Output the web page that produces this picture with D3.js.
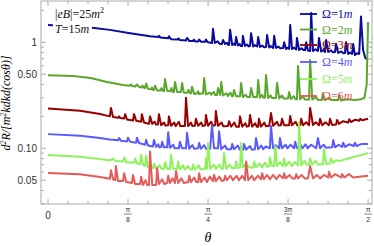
<!DOCTYPE html>
<html lang="en">
<head>
  <meta charset="UTF-8">
  <title>d2R spectrum vs theta</title>
  <style>
    body { margin: 0; background: #fff; }
    .tick-label { font-family: "Liberation Sans", Arial, sans-serif; font-size: 10px; fill: #333; }
    .serif { font-family: "Liberation Serif", "Times New Roman", serif; }
  </style>
  <script src="https://d3js.org/d3.v7.min.js"></script>
</head>
<body>
  <svg id="chart" width="374" height="246"></svg>
  <script>
    // theta in degrees (0..90 = 0..pi/2), value on log axis
    const omega1 = [[0,1.46],[12.4,1.37],[17.4,1.31],[23.1,1.22],[28.7,1.14],[31.0,1.12],[31.2,1.15],[31.6,1.11],
      [33.8,1.09],[34.0,1.14],[34.6,1.07],[36.5,1.06],[36.7,1.09],[37.1,1.05],[38.8,1.04],[39.1,1.10],[39.7,1.03],
      [40.8,1.03],[41.0,1.06],[41.4,1.02],[42.2,1.02],[42.5,1.06],[43.1,1.01],[44.2,1.01],[44.4,1.06],[45.0,1.0],
      [46.1,0.985],[46.4,1.34],[46.9,0.985],[47.7,1.02],[48.2,0.97],[48.9,0.964],[49.2,1.05],[49.8,0.964],[50.3,0.99],
      [50.6,0.95],[50.9,0.943],[51.2,1.31],[51.8,0.943],[52.2,0.97],[52.6,0.943],[52.9,1.12],[53.4,0.933],[53.9,0.96],
      [54.2,0.925],[54.6,0.923],[54.8,1.15],[55.4,0.923],[56.0,0.95],[56.4,0.915],[56.8,0.923],[57.1,1.22],[57.7,0.913],
      [58.2,0.94],[58.8,0.913],[59.1,1.12],[59.6,0.903],[60.3,0.93],[60.7,0.9],[61.3,0.903],[61.6,1.17],[62.2,0.893],
      [62.7,0.92],[63.3,0.884],[63.6,1.15],[64.1,0.884],[64.8,0.91],[65.3,0.88],[66.1,0.884],[66.4,1.0],[66.9,0.865],
      [67.3,0.89],[67.8,0.865],[68.1,1.46],[68.6,0.865],[69.1,0.89],[69.8,0.856],[70.0,1.10],[70.6,0.846],[71.3,0.88],
      [71.8,0.845],[72.3,0.846],[72.6,1.0],[73.1,0.837],[73.7,0.828],[74.0,1.89],[74.5,0.828],[75.2,0.86],[75.9,0.828],
      [76.2,1.10],[76.8,0.819],[77.4,0.845],[77.9,0.81],[78.2,1.05],[78.8,0.81],[79.6,0.84],[80.1,0.805],[80.7,0.81],
      [81.0,0.964],[81.6,0.793],[82.5,0.82],[83.0,0.79],[83.5,0.792],[83.8,1.0],[84.4,0.776],[85.0,0.80],[85.5,0.776],
      [85.8,0.964],[86.3,0.759],[86.9,0.79],[87.5,0.776],[88.0,1.75],[88.6,0.846],[89.2,0.711],[90,0.681]];

    const omega2 = [[0,0.49],[7,0.481],[12,0.461],[16.6,0.422],[21.1,0.396],[23.0,0.39],[23.3,0.40],[23.7,0.387],
      [24.5,0.383],[25.0,0.40],[25.6,0.38],[26.4,0.375],[26.6,0.39],[27.0,0.372],[27.3,0.37],[27.6,0.408],[28.1,0.363],
      [29.0,0.36],[29.2,0.375],[29.5,0.356],[29.8,0.355],[30.1,0.39],[30.7,0.35],[31.6,0.35],[31.9,0.37],[32.3,0.348],
      [32.6,0.348],[32.9,0.45],[33.5,0.348],[34.4,0.345],[34.7,0.37],[35.1,0.34],[35.4,0.34],[35.7,0.422],[36.3,0.34],
      [37.4,0.34],[37.7,0.413],[38.2,0.335],[39.2,0.335],[39.5,0.355],[39.9,0.33],[40.2,0.33],[40.5,0.38],[41.1,0.325],
      [42.0,0.33],[42.2,0.345],[42.5,0.325],[43.6,0.33],[43.9,0.46],[44.4,0.322],[45.5,0.335],[45.9,0.32],[46.6,0.34],
      [47.0,0.318],[47.5,0.318],[47.8,0.37],[48.4,0.318],[48.7,0.422],[49.2,0.315],[50.2,0.33],[50.6,0.312],[51.3,0.335],
      [51.7,0.31],[52.0,0.31],[52.3,0.355],[52.9,0.31],[54.0,0.31],[54.3,0.413],[54.8,0.305],[55.6,0.32],[56.0,0.305],
      [56.8,0.305],[57.1,0.37],[57.7,0.305],[58.8,0.305],[59.1,0.441],[59.6,0.30],[60.2,0.32],[60.6,0.30],[61.0,0.30],
      [61.3,0.491],[61.9,0.298],[62.6,0.315],[63.0,0.298],[64.1,0.298],[64.4,0.413],[65.0,0.295],[65.8,0.315],[66.2,0.295],
      [67.5,0.295],[67.8,0.34],[68.3,0.292],[69.1,0.31],[69.5,0.292],[70.0,0.29],[70.3,0.598],[70.9,0.29],[71.7,0.31],
      [72.2,0.289],[73.4,0.288],[73.7,0.68],[74.3,0.288],[75.4,0.305],[75.8,0.287],[77.0,0.285],[77.3,0.33],[77.9,0.285],
      [79.2,0.30],[79.6,0.285],[81.6,0.285],[81.9,0.32],[82.4,0.282],[84.0,0.29],[86.3,0.285],[88.0,0.29],[89.0,0.30],
      [89.6,0.40],[90,1.55]];

    const omega3 = [[0,0.237],[9,0.226],[14.6,0.211],[17.4,0.20],[17.7,0.24],[18.3,0.197],[19.8,0.194],[20.0,0.2],
      [20.3,0.193],[21.4,0.191],[21.7,0.21],[22.2,0.187],[23.9,0.183],[24.2,0.21],[24.8,0.182],[26.2,0.178],[26.4,0.21],
      [27.0,0.175],[28.4,0.17],[28.7,0.20],[29.3,0.17],[30.0,0.178],[30.3,0.168],[30.9,0.168],[31.2,0.21],[31.8,0.165],
      [32.6,0.175],[33.0,0.164],[33.8,0.165],[34.0,0.20],[34.6,0.163],[35.5,0.175],[35.9,0.162],[36.8,0.178],[37.2,0.162],
      [38.5,0.162],[38.8,0.30],[39.4,0.162],[40.2,0.175],[40.6,0.162],[41.3,0.163],[41.6,0.19],[42.2,0.163],[43.1,0.175],
      [43.5,0.162],[44.2,0.165],[44.4,0.206],[45.0,0.163],[45.9,0.178],[46.3,0.163],[47.0,0.165],[47.2,0.225],[47.8,0.163],
      [48.8,0.175],[49.3,0.161],[50.6,0.162],[50.9,0.18],[51.5,0.16],[52.4,0.175],[52.9,0.16],[53.7,0.16],[54.0,0.20],
      [54.6,0.16],[55.5,0.172],[55.9,0.16],[56.5,0.162],[56.8,0.206],[57.4,0.16],[58.3,0.172],[58.7,0.16],[59.1,0.16],
      [59.3,0.19],[59.9,0.16],[60.8,0.175],[61.3,0.161],[62.2,0.163],[62.7,0.215],[63.3,0.163],[64.4,0.178],[64.8,0.164],
      [65.5,0.165],[65.8,0.19],[66.4,0.165],[67.8,0.165],[68.1,0.202],[68.6,0.165],[69.6,0.178],[70.1,0.165],[70.9,0.165],
      [71.2,0.19],[71.7,0.165],[72.6,0.176],[73.4,0.165],[73.7,0.24],[74.5,0.166],[75.3,0.176],[76.2,0.165],[76.5,0.19],
      [77.1,0.165],[78.0,0.176],[79.0,0.165],[79.3,0.19],[79.9,0.166],[81.0,0.168],[81.3,0.185],[81.8,0.17],[83.0,0.18],
      [84.4,0.175],[84.7,0.188],[85.2,0.177],[86.4,0.186],[87.5,0.182],[87.8,0.19],[88.3,0.184],[90,0.19]];

    const omega4 = [[0,0.136],[9,0.131],[14.6,0.125],[17.4,0.121],[19.7,0.119],[20.0,0.125],[20.5,0.118],[22.2,0.116],
      [22.5,0.126],[23.1,0.115],[24.8,0.113],[25.0,0.126],[25.6,0.112],[27.3,0.108],[27.6,0.12],[28.1,0.106],[29.5,0.104],
      [29.8,0.12],[30.4,0.103],[31.0,0.109],[31.3,0.102],[31.8,0.103],[32.1,0.115],[32.6,0.102],[33.5,0.102],[33.8,0.142],
      [34.3,0.101],[35.2,0.108],[35.6,0.10],[36.8,0.10],[37.1,0.115],[37.7,0.10],[38.8,0.10],[39.1,0.14],[39.7,0.099],
      [40.6,0.107],[41.1,0.099],[42.2,0.10],[42.5,0.112],[43.0,0.099],[43.9,0.107],[44.4,0.099],[45.6,0.099],[46.1,0.166],
      [46.7,0.10],[47.8,0.10],[48.1,0.145],[48.7,0.098],[49.8,0.106],[50.3,0.098],[51.5,0.098],[51.8,0.11],[52.3,0.098],
      [53.4,0.106],[53.9,0.097],[54.9,0.097],[55.1,0.11],[55.7,0.097],[56.8,0.105],[57.3,0.097],[58.2,0.098],[58.5,0.125],
      [59.1,0.098],[60.0,0.106],[60.5,0.098],[61.2,0.104],[62.4,0.10],[62.7,0.162],[63.3,0.10],[64.0,0.107],[65.0,0.10],
      [65.2,0.125],[65.8,0.10],[66.8,0.108],[67.3,0.10],[68.2,0.108],[69.2,0.10],[69.5,0.115],[70.0,0.10],[71.0,0.108],
      [71.5,0.10],[72.4,0.109],[73.0,0.10],[74.0,0.108],[75.4,0.10],[75.9,0.125],[76.5,0.10],[77.5,0.108],[78.2,0.101],
      [79.9,0.102],[80.2,0.12],[80.7,0.102],[81.7,0.108],[82.7,0.103],[83.0,0.113],[83.5,0.103],[84.7,0.109],[86.0,0.105],
      [86.3,0.113],[86.8,0.105],[88.2,0.11],[90,0.11]];

    const omega5 = [[0,0.0865],[9,0.083],[14.6,0.079],[17.4,0.077],[18.3,0.08],[18.9,0.076],[21.1,0.075],[21.4,0.082],
      [22.0,0.074],[24.2,0.073],[24.5,0.08],[25.0,0.072],[25.9,0.071],[26.2,0.087],[26.7,0.07],[27.3,0.068],[27.6,0.085],
      [28.1,0.066],[29.5,0.065],[29.8,0.072],[30.4,0.064],[31.4,0.069],[31.9,0.064],[32.6,0.064],[32.9,0.074],[33.5,0.064],
      [34.3,0.064],[34.6,0.087],[35.2,0.064],[36.3,0.064],[36.6,0.075],[37.1,0.063],[38.0,0.069],[38.5,0.063],[39.4,0.068],
      [40.0,0.063],[40.5,0.063],[40.8,0.07],[41.3,0.063],[42.4,0.069],[42.9,0.063],[44.2,0.064],[44.4,0.08],[44.7,0.064],
      [45.0,0.112],[45.6,0.064],[46.6,0.07],[47.2,0.064],[48.2,0.07],[48.8,0.064],[49.2,0.064],[49.5,0.09],[50.1,0.064],
      [51.1,0.07],[51.7,0.065],[52.6,0.065],[52.9,0.075],[53.4,0.065],[54.0,0.066],[54.3,0.112],[54.8,0.066],[55.8,0.072],
      [56.5,0.066],[57.7,0.066],[58.0,0.075],[58.5,0.066],[59.5,0.072],[60.2,0.066],[61.0,0.073],[61.6,0.067],[62.2,0.068],
      [62.4,0.082],[63.0,0.068],[63.6,0.068],[63.9,0.105],[64.4,0.068],[65.2,0.074],[66.1,0.068],[66.4,0.08],[66.9,0.068],
      [67.8,0.075],[68.5,0.068],[69.4,0.074],[70.3,0.069],[70.6,0.175],[71.2,0.069],[72.1,0.076],[72.8,0.07],[73.4,0.07],
      [73.7,0.08],[74.3,0.07],[75.2,0.076],[76.0,0.07],[77.3,0.071],[77.6,0.098],[78.2,0.071],[79.3,0.072],[79.6,0.08],
      [80.2,0.073],[81.0,0.077],[82.1,0.076],[84.9,0.081],[87.8,0.086],[90,0.09]];

    const omega6 = [[0,0.0585],[9,0.057],[14.6,0.0535],[17.4,0.0515],[17.7,0.062],[18.3,0.051],[18.9,0.05],[19.1,0.068],
      [19.7,0.049],[21.1,0.049],[21.4,0.058],[22.0,0.048],[23.6,0.047],[23.9,0.056],[24.5,0.046],[25.9,0.046],[26.2,0.054],
      [26.7,0.045],[27.4,0.05],[27.9,0.045],[28.4,0.045],[28.7,0.093],[29.3,0.045],[30.4,0.045],[30.7,0.065],[31.2,0.046],
      [32.1,0.051],[32.7,0.046],[33.5,0.047],[33.8,0.055],[34.3,0.047],[35.0,0.052],[35.7,0.047],[36.0,0.061],[36.6,0.047],
      [37.5,0.052],[38.2,0.047],[39.4,0.048],[39.7,0.055],[40.2,0.048],[41.1,0.053],[41.7,0.048],[42.2,0.048],[42.5,0.058],
      [43.0,0.048],[44.0,0.053],[44.7,0.048],[45.5,0.054],[46.4,0.049],[46.7,0.056],[47.2,0.049],[48.2,0.054],[48.9,0.049],
      [49.5,0.05],[49.8,0.055],[50.3,0.05],[51.3,0.055],[52.0,0.05],[53.0,0.055],[53.7,0.05],[54.6,0.055],[55.4,0.05],
      [55.7,0.075],[56.3,0.05],[57.3,0.055],[58.0,0.05],[59.0,0.055],[59.9,0.051],[60.2,0.058],[60.7,0.051],[61.6,0.056],
      [62.4,0.051],[63.3,0.056],[64.2,0.051],[65.1,0.056],[66.1,0.052],[66.4,0.058],[66.9,0.052],[67.9,0.056],[68.7,0.052],
      [69.5,0.052],[69.8,0.057],[70.3,0.052],[71.3,0.056],[72.2,0.052],[73.1,0.052],[73.7,0.068],[74.5,0.052],[75.6,0.056],
      [76.5,0.052],[77.6,0.056],[78.8,0.053],[79.0,0.06],[79.6,0.053],[80.7,0.057],[82.4,0.053],[82.7,0.057],[83.3,0.053],
      [84.6,0.057],[85.8,0.053],[87.5,0.054],[90,0.055]];

    const seriesData = [omega1, omega2, omega3, omega4, omega5, omega6];
    const seriesNames = ["1", "2", "3", "4", "5", "6"];
    const colors = ["#0a0aa0", "#5aa82a", "#990000", "#5a5aff", "#8cf45a", "#e65a5a"];

    const xTicks = [0, 22.5, 45, 67.5, 90];
    const xTickNum = ["0", "π", "π", "3π", "π"];
    const xTickDen = [null, "8", "4", "8", "2"];
    const yMajor = [0.05, 0.1, 0.5, 1];
    const yMajorLabels = ["0.05", "0.10", "0.50", "1"];
    const yMinor = [0.03, 0.04, 0.06, 0.07, 0.08, 0.09, 0.2, 0.3, 0.4, 0.6, 0.7, 0.8, 0.9, 2];

    const frame = {left: 41, right: 372, top: 1, bottom: 204};
    const svg = d3.select("#chart");

    const x = d3.scaleLinear().domain([-1.97, 91.1]).range([frame.left, frame.right]);
    const y = d3.scaleLog().domain([0.0298, 2.453]).range([frame.bottom, frame.top]);

    svg.append("defs").append("clipPath").attr("id", "clip")
      .append("rect")
      .attr("x", frame.left).attr("y", frame.top)
      .attr("width", frame.right - frame.left).attr("height", frame.bottom - frame.top);

    // data lines
    const line = d3.line().x(d => x(d[0])).y(d => y(d[1]));
    const plot = svg.append("g").attr("clip-path", "url(#clip)");
    seriesData.forEach((s, i) => {
      plot.append("path")
        .attr("d", line(s))
        .attr("fill", "none")
        .attr("stroke", colors[i])
        .attr("stroke-width", 2)
        .attr("stroke-linejoin", "round");
    });

    // frame
    svg.append("rect")
      .attr("x", frame.left).attr("y", frame.top)
      .attr("width", frame.right - frame.left).attr("height", frame.bottom - frame.top)
      .attr("fill", "none").attr("stroke", "#aaa").attr("stroke-width", 1);

    // ticks point inward on all four sides
    const xMinor = d3.range(0, 91, 5.625).filter(t => !xTicks.includes(t));
    const tickG = svg.append("g").attr("stroke", "#aaa").attr("stroke-width", 1);
    xTicks.forEach(t => {
      tickG.append("line").attr("x1", x(t)).attr("x2", x(t)).attr("y1", frame.bottom).attr("y2", frame.bottom - 5);
      tickG.append("line").attr("x1", x(t)).attr("x2", x(t)).attr("y1", frame.top).attr("y2", frame.top + 5);
    });
    xMinor.forEach(t => {
      tickG.append("line").attr("x1", x(t)).attr("x2", x(t)).attr("y1", frame.bottom).attr("y2", frame.bottom - 3);
      tickG.append("line").attr("x1", x(t)).attr("x2", x(t)).attr("y1", frame.top).attr("y2", frame.top + 3);
    });
    yMajor.forEach(v => {
      tickG.append("line").attr("x1", frame.left).attr("x2", frame.left + 5).attr("y1", y(v)).attr("y2", y(v));
      tickG.append("line").attr("x1", frame.right).attr("x2", frame.right - 5).attr("y1", y(v)).attr("y2", y(v));
    });
    yMinor.forEach(v => {
      tickG.append("line").attr("x1", frame.left).attr("x2", frame.left + 3).attr("y1", y(v)).attr("y2", y(v));
      tickG.append("line").attr("x1", frame.right).attr("x2", frame.right - 3).attr("y1", y(v)).attr("y2", y(v));
    });

    // y tick labels
    yMajor.forEach((v, i) => {
      svg.append("text").attr("class", "tick-label")
        .attr("x", frame.left - 4).attr("y", y(v) + 3.5)
        .attr("text-anchor", "end").text(yMajorLabels[i]);
    });

    // x tick labels (fractions of pi)
    xTicks.forEach((t, i) => {
      if (xTickDen[i] === null) {
        svg.append("text").attr("class", "tick-label")
          .attr("x", x(t)).attr("y", 219).attr("text-anchor", "middle").text(xTickNum[i]);
      } else {
        svg.append("text").attr("class", "tick-label").style("font-size", "7px")
          .attr("x", x(t)).attr("y", 212).attr("text-anchor", "middle").text(xTickNum[i]);
        svg.append("line").attr("x1", x(t) - 4).attr("x2", x(t) + 4)
          .attr("y1", 214).attr("y2", 214).attr("stroke", "#333").attr("stroke-width", 0.6);
        svg.append("text").attr("class", "tick-label").style("font-size", "7px")
          .attr("x", x(t)).attr("y", 222).attr("text-anchor", "middle").text(xTickDen[i]);
      }
    });

    // axis titles
    svg.append("text").attr("class", "serif")
      .attr("x", x(45)).attr("y", 242).attr("text-anchor", "middle")
      .style("font-size", "14px").style("font-style", "italic").text("θ");

    const yTitle = svg.append("text").attr("class", "serif")
      .attr("transform", "translate(10,103) rotate(-90)")
      .attr("text-anchor", "middle").style("font-size", "12px").style("font-style", "italic");
    yTitle.append("tspan").text("d");
    yTitle.append("tspan").attr("dy", -4).style("font-size", "8px").text("2");
    yTitle.append("tspan").attr("dy", 4).text("R/[m");
    yTitle.append("tspan").attr("dy", -4).style("font-size", "8px").text("2");
    yTitle.append("tspan").attr("dy", 4).text("kdkd(cos");
    yTitle.append("tspan").text("θ)]");

    // annotations (white background like the original epilog)
    svg.append("rect").attr("x", 53).attr("y", 20).attr("width", 39).attr("height", 15).attr("fill", "#fff");
    const ann1 = svg.append("text").attr("class", "serif")
      .attr("x", 55).attr("y", 18).style("font-size", "12px").attr("fill", "#111");
    ann1.append("tspan").text("|");
    ann1.append("tspan").style("font-style", "italic").text("eB");
    ann1.append("tspan").text("|=25");
    ann1.append("tspan").style("font-style", "italic").text("m");
    ann1.append("tspan").attr("dy", -5).style("font-size", "8px").text("2");
    const ann2 = svg.append("text").attr("class", "serif")
      .attr("x", 55).attr("y", 33).style("font-size", "12px").attr("fill", "#111");
    ann2.append("tspan").style("font-style", "italic").text("T");
    ann2.append("tspan").text("=15");
    ann2.append("tspan").style("font-style", "italic").text("m");

    // legend
    const legendY = [14, 29.5, 45, 62, 79, 96];
    seriesNames.forEach((n, i) => {
      svg.append("line").attr("x1", 300).attr("x2", 317)
        .attr("y1", legendY[i]).attr("y2", legendY[i])
        .attr("stroke", colors[i]).attr("stroke-width", 1.8);
      const t = svg.append("text").attr("class", "serif")
        .attr("x", 322).attr("y", legendY[i] + 4)
        .style("font-size", "12px").attr("fill", colors[i]);
      t.append("tspan").text("Ω=" + n);
      t.append("tspan").style("font-style", "italic").text("m");
    });
  </script>
</body>
</html>
